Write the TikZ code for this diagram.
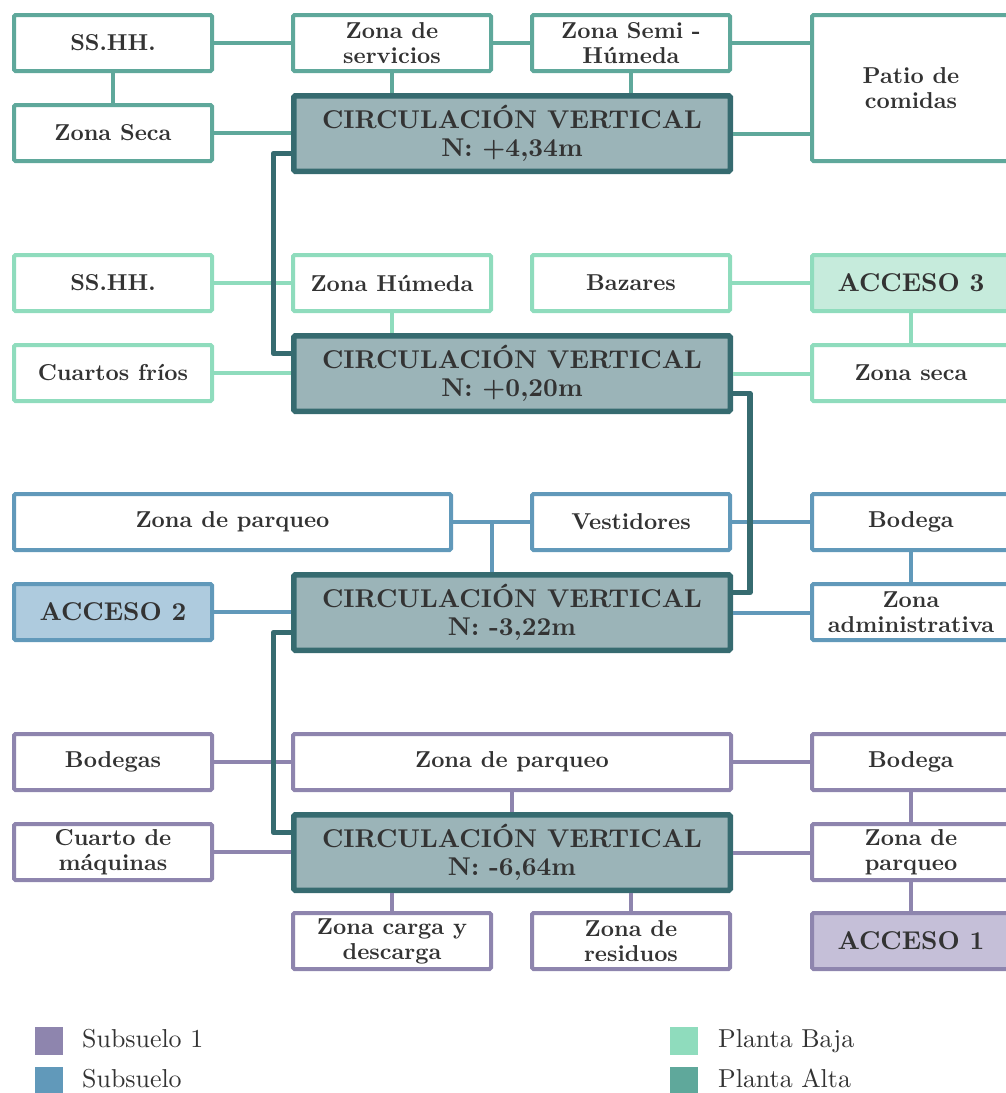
\documentclass[tikz,border=0pt]{standalone}
\usepackage{tikz}
\usepackage{fontspec}
% Latin Modern at its 10pt design size, whatever size it is set at
\setmainfont{lmroman10-regular.otf}[BoldFont=lmroman10-bold.otf]
\definecolor{alta}{HTML}{5FA89B}
\definecolor{baja}{HTML}{8FDCBD}
\definecolor{sub}{HTML}{6199BA}
\definecolor{subi}{HTML}{8E85AE}
\definecolor{dk}{HTML}{366B70}
\definecolor{cvfill}{HTML}{9BB4B8}
\definecolor{txt}{HTML}{333333}
\definecolor{accA}{HTML}{C6EBDC}
\definecolor{accB}{HTML}{AECBDE}
\definecolor{accC}{HTML}{C5BFD8}
\tikzset{
  box/.style={draw, line width=4pt, fill=white, rounded corners=1.5pt,
    minimum width=198pt, minimum height=56pt, inner sep=0pt, align=center,
    text=txt, font=\fontsize{23}{25}\selectfont\bfseries},
  wide/.style={minimum width=438pt},
  big/.style={font=\fontsize{25.7}{28}\selectfont\bfseries},
  cvbox/.style={draw=dk, line width=5.5pt, fill=cvfill, rounded corners=1.5pt,
    minimum width=436.5pt, minimum height=75.5pt, inner sep=0pt, align=center,
    text=txt, font=\fontsize{25.7}{28}\selectfont\bfseries},
  altabox/.style={box, draw=alta},
  bajabox/.style={box, draw=baja},
  subbox/.style={box, draw=sub},
  subibox/.style={box, draw=subi},
  link/.style={line width=4pt},
  dklink/.style={draw=dk, line width=5.5pt, line join=round},
  swatch/.style={minimum size=28pt, inner sep=0pt},
  legtext/.style={anchor=base west, inner sep=0pt, text=txt,
    font=\fontsize{25.9}{28}\selectfont}
}
\begin{document}
\begin{tikzpicture}[x=1pt, y=-1pt]
\useasboundingbox (0,0) rectangle (1006,1093);
\clip (0,0) rectangle (1006,1093);

% ---------------- Planta Alta ----------------
\node[altabox] (a1) at (113,43) {SS.HH.};
\node[altabox] (a2) at (392,43) {Zona de\\servicios};
\node[altabox] (a3) at (631,43) {Zona Semi -\\Húmeda};
\node[altabox, minimum height=146pt] (a4) at (911,88) {Patio de\\comidas};
\node[altabox] (a5) at (113,133) {Zona Seca};
\node[cvbox] (cvA) at (512,133.5) {CIRCULACIÓN VERTICAL\\N: +4,34m};

\begin{scope}[link, draw=alta]
  \draw (a1.east) -- (a2.west);
  \draw (a2.east) -- (a3.west);
  \draw (a3.east) -- (a3.east -| a4.west);
  \draw (a1.south) -- (a5.north);
  \draw (a5.east) -- (a5.east -| cvA.west);
  \draw (a2.south) -- (a2.south |- cvA.north);
  \draw (a3.south) -- (a3.south |- cvA.north);
  \draw (cvA.east) -- (cvA.east -| a4.west);
\end{scope}

% ---------------- Planta Baja ----------------
\node[bajabox] (b1) at (113,283) {SS.HH.};
\node[bajabox] (b2) at (392,283) {Zona Húmeda};
\node[bajabox] (b3) at (631,283) {Bazares};
\node[bajabox, big, fill=accA] (b4) at (911,283) {ACCESO 3};
\node[bajabox] (b5) at (113,373) {Cuartos fríos};
\node[cvbox] (cvB) at (512,373.5) {CIRCULACIÓN VERTICAL\\N: +0,20m};
\node[bajabox] (b6) at (911,373) {Zona seca};

\begin{scope}[link, draw=baja]
  \draw (b1.east) -- (b2.west);
  \draw (b2.south) -- (b2.south |- cvB.north);
  \draw (b5.east) -- (b5.east -| cvB.west);
  \draw (b3.east) -- (b4.west);
  \draw (b4.south) -- (b6.north);
  \draw (cvB.east) -- (cvB.east -| b6.west);
\end{scope}

% ---------------- Subsuelo ----------------
\node[subbox, minimum width=437pt] (c1) at (232.5,522) {Zona de parqueo};
\node[subbox] (c2) at (631,522) {Vestidores};
\node[subbox] (c3) at (911,522) {Bodega};
\node[subbox, big, fill=accB] (c4) at (113,612) {ACCESO 2};
\node[cvbox] (cvC) at (512,612.5) {CIRCULACIÓN VERTICAL\\N: -3,22m};
\node[subbox] (c5) at (911,612) {Zona\\administrativa};
\coordinate (cj) at (492,522);

\begin{scope}[link, draw=sub]
  \draw (c1.east) -- (c2.west);
  \draw (cj |- cvC.north) -- (cj);
  \draw (c2.east) -- (c3.west);
  \draw (c3.south) -- (c5.north);
  \draw (c4.east) -- (c4.east -| cvC.west);
  \draw (cvC.east) -- (cvC.east -| c5.west);
\end{scope}

% ---------------- Subsuelo 1 ----------------
\node[subibox, wide] (d1x) at (512,762) {Zona de parqueo};
\node[subibox] (d1) at (113,762) {Bodegas};
\node[subibox] (d3) at (911,762) {Bodega};
\node[subibox] (d4) at (113,852) {Cuarto de\\máquinas};
\node[cvbox] (cvD) at (512,852.5) {CIRCULACIÓN VERTICAL\\N: -6,64m};
\node[subibox] (d5) at (911,852) {Zona de\\parqueo};
\node[subibox] (d6) at (392,941) {Zona carga y\\descarga};
\node[subibox] (d7) at (631,941) {Zona de\\residuos};
\node[subibox, big, fill=accC] (d8) at (911,941) {ACCESO 1};

\begin{scope}[link, draw=subi]
  \draw (d1.east) -- (d1x.west);
  \draw (d1x.east) -- (d3.west);
  \draw (d1x.south) -- (d1x.south |- cvD.north);
  \draw (d4.east) -- (d4.east -| cvD.west);
  \draw (cvD.east) -- (cvD.east -| d5.west);
  \draw (d3.south) -- (d5.north);
  \draw (d5.south) -- (d8.north);
  \draw (d6.north |- cvD.south) -- (d6.north);
  \draw (d7.north |- cvD.south) -- (d7.north);
\end{scope}

% ---------------- vertical circulation links ----------------
\draw[dklink] ([yshift=-20pt]cvA.west) -- ++(-17.5,0) |- ([yshift=20pt]cvB.west);
\draw[dklink] ([yshift=-20pt]cvB.east) -- ++(17,0) |- ([yshift=20pt]cvC.east);
\draw[dklink] ([yshift=-20pt]cvC.west) -- ++(-17.5,0) |- ([yshift=20pt]cvD.west);

% ---------------- legend ----------------
\node[swatch, fill=subi] (l1) at (49,1041) {};
\node[legtext] (t1) at (82,1047) {Subsuelo 1};
\node[swatch, fill=sub] (l2) at (49,1081) {};
\node[legtext] (t2) at (82,1087) {Subsuelo};
\node[swatch, fill=baja] (l3) at (684,1041) {};
\node[legtext] (t3) at (718,1047) {Planta Baja};
\node[swatch, fill=alta] (l4) at (684,1081) {};
\node[legtext] (t4) at (718,1087) {Planta Alta};
\end{tikzpicture}
\end{document}
